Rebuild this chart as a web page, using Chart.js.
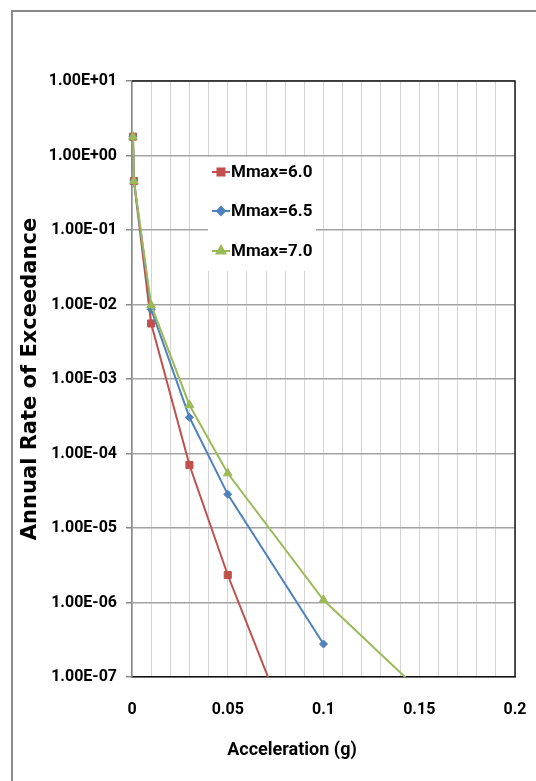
<!DOCTYPE html>
<html>
<head>
<meta charset="utf-8">
<script src="https://cdn.jsdelivr.net/npm/chart.js@4.4.1/dist/chart.umd.min.js"></script>
<style>
  body { margin: 0; background: #fff; }
  #frame { position: absolute; left: 11px; top: 10px; width: 530px; height: 780px;
           border-left: 2px solid #8a8a8a; border-top: 2px solid #8a8a8a; }
  #chart { position: absolute; left: 0; top: 0; }
</style>
</head>
<body>
<div id="frame"></div>
<canvas id="chart" width="536" height="781"></canvas>
<script>
// Series data
const seriesNames = ['Mmax=6.0', 'Mmax=6.5', 'Mmax=7.0'];
const accelRed = [0.0005, 0.001, 0.01, 0.03, 0.05, 0.1];
const rateRed = [1.79, 0.455, 5.56e-3, 7.0e-5, 2.34e-6, 1.3e-9];
const accelBlue = [0.0005, 0.001, 0.01, 0.03, 0.05, 0.1];
const rateBlue = [1.79, 0.455, 8.6e-3, 3.06e-4, 2.83e-5, 2.77e-7];
const accelGreen = [0.0005, 0.001, 0.01, 0.03, 0.05, 0.1, 0.15];
const rateGreen = [1.79, 0.455, 9.8e-3, 4.48e-4, 5.42e-5, 1.08e-6, 6.6e-8];

// Axis ticks
const yTickValues = [1e1, 1e0, 1e-1, 1e-2, 1e-3, 1e-4, 1e-5, 1e-6, 1e-7];
const xLabelValues = [0, 0.05, 0.1, 0.15, 0.2];

const colors = ['#C0504D', '#4F81BD', '#9BBB59'];
const styles = ['rect', 'rectRot', 'triangle'];
const radii = [5, 4, 5];

const fontFamily = 'Roboto, "Liberation Sans", sans-serif';
const tickFont = { family: fontFamily, size: 16, weight: 'bold' };

function toPoints(xs, ys) {
    return xs.map((x, i) => ({ x: x, y: ys[i] }));
}

// Excel style: 1.00E-07
function sciLabel(v) {
    const exp = Math.round(Math.log10(v));
    const sign = exp < 0 ? '-' : '+';
    const abs = Math.abs(exp);
    return '1.00E' + sign + (abs < 10 ? '0' + abs : abs);
}

// Draw the plot frame (top and right), legend box and x axis title
const extras = {
    id: 'extras',
    afterDatasetsDraw(chart) {
        const ctx = chart.ctx;
        const a = chart.chartArea;
        ctx.save();
        ctx.strokeStyle = '#1a1a1a';
        ctx.lineWidth = 1.5;
        ctx.beginPath();
        ctx.moveTo(a.left, a.top);
        ctx.lineTo(a.right, a.top);
        ctx.lineTo(a.right, a.bottom);
        ctx.stroke();

        // legend
        ctx.fillStyle = '#fff';
        ctx.fillRect(208, 157, 108, 114);
        const rows = [172, 211, 251];
        chart.data.datasets.forEach((ds, i) => {
            const y = rows[i];
            ctx.strokeStyle = ds.borderColor;
            ctx.lineWidth = 2;
            ctx.beginPath();
            ctx.moveTo(212, y);
            ctx.lineTo(230, y);
            ctx.stroke();
            Chart.helpers.drawPoint(ctx, {
                pointStyle: ds.pointStyle, radius: ds.pointRadius, borderWidth: 1, rotation: 0
            }, 221, y);
            ctx.fillStyle = ds.borderColor;
            ctx.fill();
            ctx.fillStyle = '#000';
            ctx.font = 'bold 17px ' + fontFamily;
            ctx.textBaseline = 'middle';
            ctx.textAlign = 'left';
            ctx.fillText(ds.label, 231, y + 1);
        });

        // x axis title
        ctx.fillStyle = '#000';
        ctx.font = 'bold 18px ' + fontFamily;
        ctx.textAlign = 'center';
        ctx.textBaseline = 'middle';
        ctx.fillText('Acceleration (g)', 292, 750);
        ctx.restore();
    }
};

const ctx = document.getElementById('chart').getContext('2d');
const chart = new Chart(ctx, {
    type: 'scatter',
    data: {
        datasets: [
            { label: seriesNames[0], data: toPoints(accelRed, rateRed), order: 3 },
            { label: seriesNames[1], data: toPoints(accelBlue, rateBlue), order: 2 },
            { label: seriesNames[2], data: toPoints(accelGreen, rateGreen), order: 1 }
        ].map((ds, i) => Object.assign(ds, {
            showLine: true,
            borderColor: colors[i],
            backgroundColor: colors[i],
            borderWidth: 2,
            pointStyle: styles[i],
            pointRadius: radii[i],
            pointBorderWidth: 1,
            clip: { left: 10, top: 0, right: 0, bottom: 0 }
        }))
    },
    options: {
        responsive: false,
        animation: false,
        layout: { padding: { top: 81, right: 21, left: 0, bottom: 0 } },
        plugins: {
            legend: { display: false },
            tooltip: { enabled: false }
        },
        scales: {
            x: {
                type: 'linear',
                min: 0,
                max: 0.2,
                ticks: {
                    stepSize: 0.01,
                    autoSkip: false,
                    maxRotation: 0,
                    padding: 23,
                    color: '#000',
                    font: tickFont,
                    callback: (v) => {
                        const hit = xLabelValues.find(t => Math.abs(t - v) < 1e-6);
                        return hit === undefined ? '' : String(hit);
                    }
                },
                grid: { color: '#d4d4d4', lineWidth: 1, drawTicks: false },
                border: { color: '#111', width: 1.5 },
                afterFit: (s) => { s.height = 104; s.paddingLeft = 0; s.paddingRight = 0; }
            },
            y: {
                type: 'logarithmic',
                min: 1e-7,
                max: 10,
                afterBuildTicks: (s) => { s.ticks = yTickValues.map(v => ({ value: v, major: true })); },
                ticks: {
                    autoSkip: false,
                    padding: 9,
                    color: '#000',
                    font: tickFont,
                    callback: (v) => sciLabel(v)
                },
                grid: { color: '#a3a3a3', lineWidth: 1.5, tickLength: 6, tickColor: '#8a8a8a' },
                border: { color: '#8a8a8a', width: 1.5 },
                title: {
                    display: true,
                    text: 'Annual Rate of Exceedance',
                    color: '#000',
                    font: { family: '"DejaVu Sans", sans-serif', size: 21, weight: 'bold' },
                    padding: { top: 18, bottom: 0 }
                },
                afterFit: (s) => { s.width = 132; s.paddingTop = 0; s.paddingBottom = 0; }
            }
        }
    },
    plugins: [extras]
});
</script>
</body>
</html>
